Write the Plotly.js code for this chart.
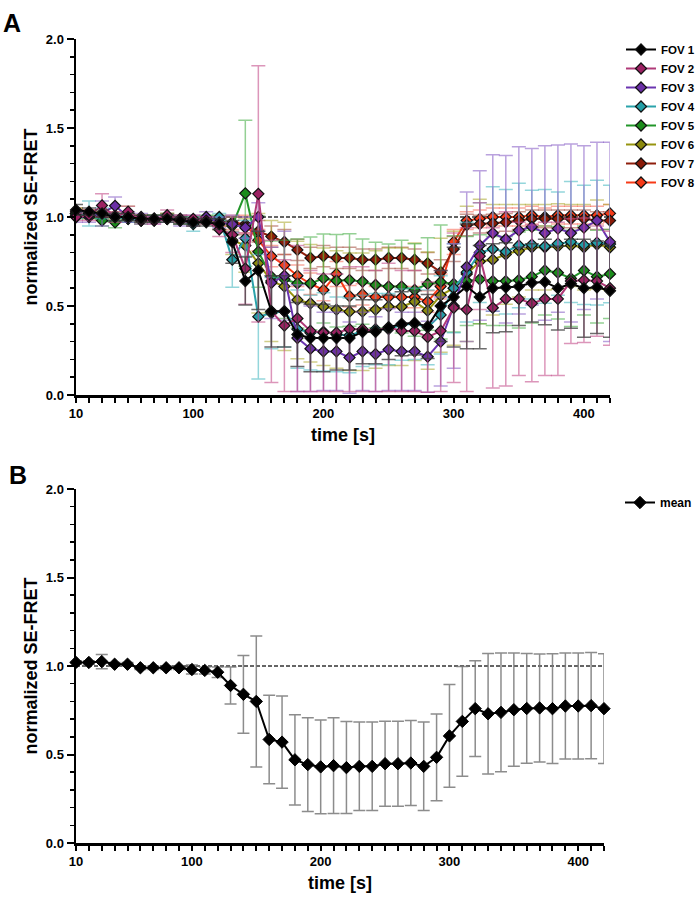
<!DOCTYPE html>
<html>
<head>
<meta charset="utf-8">
<script src="https://cdn.plot.ly/plotly-3.0.1.min.js"></script>
<style>
  html, body { margin: 0; padding: 0; background: #fff; }
  #chart { width: 699px; height: 906px; }
</style>
</head>
<body>
<div id="chart"></div>
<script>
// ---------- data ----------
const time = [10,20,30,40,50,60,70,80,90,100,110,120,130,140,150,160,170,180,190,200,210,
              220,230,240,250,260,270,280,290,300,310,320,330,340,350,360,370,380,390,400,410,420];

const fovNames = ["FOV 1","FOV 2","FOV 3","FOV 4","FOV 5","FOV 6","FOV 7","FOV 8"];

const fov1 = [1.04,1.03,1.02,1.00,1.00,0.99,0.99,0.99,0.98,0.97,0.97,0.96,
              0.86,0.64,0.70,0.47,0.47,0.34,0.32,0.32,0.32,0.32,0.355,0.355,0.38,0.40,0.405,0.385,0.50,0.55,
              0.61,0.55,0.60,0.605,0.61,0.63,0.635,0.60,0.625,0.60,0.605,0.585];
const fov1Err = [0.03,0.02,0.02,0.02,0.02,0.02,0.02,0.02,0.02,0.02,0.02,0.03,
              0.12,0.135,0.22,0.20,0.20,0.18,0.19,0.19,0.18,0.18,0.18,0.18,0.18,0.18,0.18,0.18,0.20,0.28,
              0.35,0.29,0.25,0.25,0.22,0.22,0.24,0.235,0.25,0.275,0.26,0.26];

const fov2 = [1.00,1.01,1.065,1.00,1.03,0.98,0.98,1.01,0.99,0.99,0.98,0.93,
              0.90,0.71,1.13,0.47,0.39,0.43,0.36,0.35,0.35,0.37,0.37,0.36,0.38,0.36,0.36,0.325,0.36,0.49,
              0.48,0.78,0.49,0.54,0.54,0.515,0.54,0.54,0.64,0.645,0.64,0.60];
const fov2Err = [0.02,0.03,0.065,0.03,0.03,0.02,0.02,0.03,0.02,0.02,0.02,0.04,
              0.10,0.20,0.72,0.40,0.37,0.41,0.34,0.33,0.33,0.35,0.35,0.34,0.36,0.34,0.34,0.31,0.34,0.42,
              0.46,0.30,0.45,0.49,0.43,0.44,0.43,0.43,0.35,0.35,0.31,0.32];

const fov3 = [1.00,1.00,1.02,1.063,1.00,1.00,0.98,0.99,0.98,0.98,1.00,0.97,
              0.96,0.94,1.00,0.63,0.67,0.32,0.26,0.245,0.245,0.21,0.245,0.23,0.255,0.245,0.245,0.215,0.30,0.50,
              0.72,0.84,0.91,0.875,0.925,0.945,0.91,0.935,0.91,0.94,0.98,0.86];
const fov3Err = [0.03,0.03,0.07,0.05,0.03,0.02,0.02,0.02,0.03,0.03,0.03,0.03,
              0.05,0.06,0.08,0.20,0.25,0.30,0.24,0.22,0.22,0.20,0.22,0.21,0.23,0.22,0.22,0.20,0.25,0.35,
              0.42,0.42,0.44,0.47,0.47,0.44,0.49,0.47,0.50,0.46,0.44,0.56];

const fov4 = [1.01,1.02,1.02,1.00,0.99,0.98,0.99,0.99,0.98,0.96,0.98,1.00,
              0.76,0.88,0.44,0.46,0.47,0.37,0.35,0.355,0.34,0.335,0.36,0.37,0.37,0.395,0.40,0.38,0.45,0.60,
              0.69,0.80,0.82,0.805,0.84,0.845,0.835,0.85,0.86,0.843,0.856,0.848];
const fov4Err = [0.02,0.07,0.03,0.02,0.02,0.02,0.02,0.02,0.02,0.04,0.02,0.02,
              0.155,0.10,0.35,0.20,0.20,0.22,0.21,0.22,0.21,0.21,0.20,0.20,0.20,0.20,0.20,0.21,0.22,0.25,
              0.28,0.28,0.35,0.35,0.35,0.305,0.32,0.29,0.34,0.335,0.35,0.33];

const fov5 = [1.02,1.01,0.98,0.97,0.99,0.98,0.99,1.00,0.99,0.98,0.99,0.99,
              0.95,1.133,0.805,0.665,0.65,0.627,0.627,0.655,0.642,0.646,0.637,0.618,0.609,0.609,0.59,0.624,0.635,0.624,
              0.64,0.65,0.64,0.64,0.646,0.665,0.70,0.687,0.655,0.70,0.665,0.68];
const fov5Err = [0.02,0.02,0.03,0.03,0.02,0.02,0.02,0.02,0.02,0.02,0.02,0.02,
              0.05,0.41,0.20,0.20,0.22,0.25,0.26,0.25,0.26,0.26,0.24,0.24,0.24,0.26,0.26,0.26,0.32,0.27,
              0.25,0.25,0.25,0.25,0.27,0.26,0.25,0.26,0.27,0.25,0.26,0.25];

const fov6 = [1.02,1.02,1.01,1.01,1.02,0.99,0.99,0.99,0.98,0.97,0.98,0.96,
              0.87,0.84,0.74,0.64,0.61,0.534,0.515,0.496,0.48,0.468,0.468,0.48,0.496,0.496,0.524,0.474,0.56,0.60,
              0.68,0.75,0.76,0.79,0.81,0.83,0.83,0.835,0.84,0.83,0.845,0.83];
const fov6Err = [0.03,0.02,0.02,0.02,0.04,0.02,0.02,0.02,0.02,0.02,0.02,0.03,
              0.08,0.15,0.28,0.34,0.36,0.33,0.33,0.33,0.33,0.33,0.33,0.33,0.33,0.33,0.33,0.33,0.32,0.32,
              0.38,0.35,0.31,0.28,0.26,0.24,0.24,0.24,0.23,0.24,0.25,0.24];

const fov7 = [1.03,1.02,1.01,1.00,1.00,0.99,0.99,1.00,0.98,0.97,0.98,0.97,
              0.96,0.95,0.92,0.89,0.86,0.815,0.77,0.78,0.77,0.77,0.76,0.76,0.77,0.77,0.76,0.74,0.69,0.82,
              0.955,0.96,0.965,0.97,0.98,0.99,0.99,0.99,0.99,0.99,0.98,0.98];
const fov7Err = [0.02,0.02,0.02,0.02,0.02,0.02,0.02,0.02,0.02,0.02,0.02,0.02,
              0.04,0.05,0.06,0.06,0.07,0.06,0.06,0.06,0.06,0.06,0.06,0.06,0.06,0.06,0.06,0.06,0.07,0.07,
              0.06,0.05,0.05,0.05,0.05,0.05,0.05,0.05,0.05,0.05,0.05,0.05];

const fov8 = [1.02,1.01,1.00,1.00,1.00,0.99,0.99,1.00,0.99,0.98,0.98,0.97,
              0.97,0.96,0.87,0.78,0.73,0.67,0.625,0.59,0.68,0.555,0.565,0.55,0.55,0.55,0.55,0.525,0.61,0.86,
              0.98,0.99,1.00,1.00,1.00,1.01,1.00,1.01,1.01,1.01,1.01,1.02];
const fov8Err = [0.02,0.02,0.02,0.02,0.02,0.02,0.02,0.02,0.02,0.02,0.02,0.02,
              0.04,0.05,0.06,0.06,0.06,0.06,0.06,0.06,0.07,0.06,0.06,0.06,0.06,0.06,0.06,0.06,0.07,0.07,
              0.05,0.05,0.05,0.05,0.05,0.05,0.05,0.05,0.05,0.05,0.05,0.05];

const meanVals = [1.02,1.02,1.025,1.01,1.01,0.99,0.99,0.99,0.99,0.98,0.975,0.965,
              0.89,0.84,0.80,0.585,0.57,0.47,0.443,0.43,0.437,0.426,0.433,0.433,0.448,0.448,0.452,0.433,0.484,0.605,
              0.687,0.759,0.73,0.738,0.753,0.76,0.763,0.759,0.774,0.774,0.776,0.759];
const meanErr = [0.01,0.01,0.04,0.01,0.01,0.01,0.01,0.01,0.01,0.025,0.02,0.03,
              0.105,0.22,0.37,0.25,0.26,0.255,0.265,0.265,0.27,0.26,0.25,0.25,0.24,0.24,0.24,0.25,0.245,0.29,
              0.31,0.27,0.34,0.335,0.32,0.31,0.305,0.31,0.30,0.30,0.30,0.31];

const baseline = 1.0;
const xTickVals = [10,100,200,300,400];
const yTickVals = [0,0.5,1.0,1.5,2.0];

// ---------- styling ----------
const fovValues = [fov1,fov2,fov3,fov4,fov5,fov6,fov7,fov8];
const fovErrors = [fov1Err,fov2Err,fov3Err,fov4Err,fov5Err,fov6Err,fov7Err,fov8Err];
const markerColors = ["#000000","#9c2163","#6b2fa6","#229ea6","#1b8c1b","#8c8a0c","#8a1a08","#f73a17"];
const lineColors   = ["#000000","#b03a78","#6b35b0","#2aa3ab","#22962a","#96940f","#8f1e0c","#f73a17"];
const errColors    = ["rgba(60,60,60,0.75)","rgba(196,80,140,0.6)","rgba(140,100,200,0.6)","rgba(60,180,190,0.55)",
                      "rgba(60,170,60,0.55)","rgba(170,165,40,0.55)","rgba(160,70,55,0.55)","rgba(245,100,80,0.55)"];

const FONT = "Liberation Sans, Arial, Helvetica, sans-serif";
const W = 699, H = 906;

const traces = [];
// drawn from FOV 8 up to FOV 1 so that FOV 1 sits on top
for (let i = fovNames.length - 1; i >= 0; i--) {
  traces.push({
    type: "scatter", mode: "lines+markers",
    x: time, y: fovValues[i], name: fovNames[i],
    xaxis: "x", yaxis: "y", legend: "legend",
    cliponaxis: false,
    line: { color: lineColors[i], width: 2 },
    marker: { symbol: "diamond", size: 8.5, color: markerColors[i], line: { color: "#111", width: 1.2 } },
    error_y: { type: "data", array: fovErrors[i], visible: true, color: errColors[i], thickness: 1.5, width: 7 }
  });
}
traces.push({
  type: "scatter", mode: "lines+markers",
  x: time, y: meanVals, name: "mean",
  xaxis: "x2", yaxis: "y2", legend: "legend2",
  cliponaxis: false,
  line: { color: "#000", width: 2 },
  marker: { symbol: "diamond", size: 9.5, color: "#000", line: { color: "#000", width: 1 } },
  error_y: { type: "data", array: meanErr, visible: true, color: "rgba(120,120,120,0.85)", thickness: 1.5, width: 6 }
});

function xAxis(domain, anchor) {
  return {
    domain: domain, anchor: anchor, range: [10, 420],
    showline: true, linecolor: "#000", linewidth: 2.5,
    showgrid: false, zeroline: false,
    ticks: "outside", tickmode: "array", tickvals: xTickVals,
    ticklen: 5, tickwidth: 2, tickcolor: "#000",
    minor: { tickmode: "linear", tick0: 0, dtick: 10, ticks: "outside", ticklen: 5, tickwidth: 2, tickcolor: "#000", showgrid: false },
    tickfont: { family: FONT, size: 13, color: "#000", weight: "bold" },
    title: { text: "time [s]", font: { family: FONT, size: 18, color: "#000", weight: "bold" }, standoff: 9 }
  };
}
function yAxis(domain, anchor) {
  return {
    domain: domain, anchor: anchor, range: [0, 2],
    showline: true, linecolor: "#000", linewidth: 2.5,
    showgrid: false, zeroline: false,
    ticks: "outside", tickmode: "array", tickvals: yTickVals, tickformat: ".1f",
    ticklen: 7, tickwidth: 2, tickcolor: "#000",
    minor: { tickmode: "linear", tick0: 0, dtick: 0.1, ticks: "outside", ticklen: 4, tickwidth: 1.5, tickcolor: "#000", showgrid: false },
    tickfont: { family: FONT, size: 13, color: "#000", weight: "bold" },
    title: { text: "normalized SE-FRET", font: { family: FONT, size: 18, color: "#000", weight: "bold" }, standoff: 4 }
  };
}

const layout = {
  width: W, height: H, autosize: false,
  margin: { l: 0, r: 0, t: 0, b: 0, autoexpand: false },
  paper_bgcolor: "#fff", plot_bgcolor: "rgba(0,0,0,0)",
  font: { family: FONT, color: "#000" },
  showlegend: true,
  xaxis: xAxis([76 / W, 610 / W], "y"),
  yaxis: yAxis([1 - 395 / H, 1 - 39 / H], "x"),
  xaxis2: xAxis([76 / W, 604 / W], "y2"),
  yaxis2: yAxis([1 - 843 / H, 1 - 489 / H], "x2"),
  legend: {
    x: 621 / W, xanchor: "left", y: 1 - 35 / H, yanchor: "top",
    traceorder: "reversed",
    bgcolor: "rgba(0,0,0,0)", borderwidth: 0, tracegroupgap: 0,
    font: { family: FONT, size: 11.5, color: "#000", weight: "bold" }
  },
  legend2: {
    x: 620 / W, xanchor: "left", y: 1 - 488 / H, yanchor: "top",
    bgcolor: "rgba(0,0,0,0)", borderwidth: 0,
    font: { family: FONT, size: 12, color: "#000", weight: "bold" }
  },
  shapes: [
    { type: "line", xref: "x", yref: "y", x0: 10, x1: 420, y0: baseline, y1: baseline, layer: "below",
      line: { color: "#333", width: 1.5, dash: "4px,2px" } },
    { type: "line", xref: "x2", yref: "y2", x0: 10, x1: 420, y0: baseline, y1: baseline, layer: "below",
      line: { color: "#333", width: 1.5, dash: "4px,2px" } }
  ],
  annotations: [
    { xref: "paper", yref: "paper", x: 1 / W, y: 1 - 23 / H, xanchor: "left", yanchor: "middle",
      text: "A", showarrow: false, font: { family: FONT, size: 25, color: "#000", weight: "bold" } },
    { xref: "paper", yref: "paper", x: 7 / W, y: 1 - 475 / H, xanchor: "left", yanchor: "middle",
      text: "B", showarrow: false, font: { family: FONT, size: 25, color: "#000", weight: "bold" } }
  ]
};

Plotly.newPlot("chart", traces, layout, { staticPlot: true, displayModeBar: false });
</script>
</body>
</html>
